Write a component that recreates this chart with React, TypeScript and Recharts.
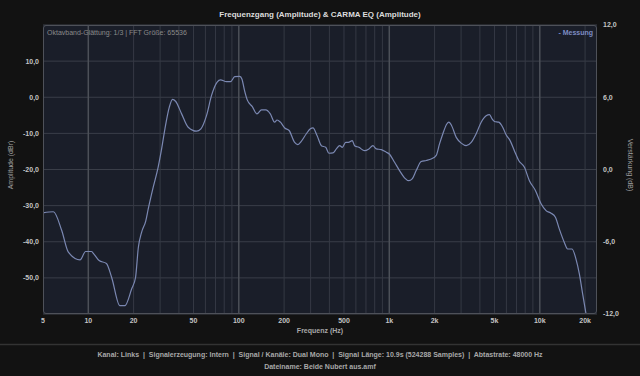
import { LineChart, Line, XAxis, YAxis, CartesianGrid, ReferenceLine } from "recharts";

const freqs = [
  5, 5.86, 6.66, 7.37, 8.81, 9.6, 10.5, 10.8, 11.8, 13.2, 14.3, 16.2, 17.5, 19.4, 20.6, 21.5, 22.6, 24.1,
  25, 27, 29.1, 30.7, 32.3, 34.5, 36.3, 38, 41.7, 46.1, 52.4, 56, 61, 65.9, 71.8, 75.6, 82.8, 88, 94,
  101.6, 105, 109, 114, 123, 132, 141.5, 151, 162, 173, 179.5, 189, 202, 216, 235, 247, 260, 281, 299,
  311, 331, 354, 378, 397, 423, 445, 468, 488, 513, 535, 568, 588, 628, 685, 732, 778, 820, 885, 955,
  1000, 1084, 1170, 1262, 1349, 1419, 1509, 1630, 1759, 1899, 2050, 2157, 2270, 2411, 2485, 2577, 2785,
  3006, 3245, 3502, 3779, 4079, 4402, 4633, 4822, 5000, 5336, 5671, 5974, 6350, 6778, 7244, 7908, 8534,
  9353, 10200, 11010, 11890, 12700, 13490, 14560, 15310, 16380, 17400, 18320, 19280, 20300,
];

const amplitude = [
  -32, -31.7, -36.9, -42.9, -45, -42.7, -42.7, -43.2, -45.2, -46, -49.9, -57.7, -57.7, -53.1, -49.9, -41.6,
  -37.4, -34.2, -31, -24.9, -19.4, -14.3, -8.75, -2.8, -0.6, -1.1, -4.6, -8.3, -9.4, -8.75, -5.1, 0.5, 4.2,
  4.8, 4.3, 4.3, 5.7, 5.8, 5.0, 2.0, -0.8, -2.6, -4.6, -3.5, -3.5, -4.6, -6.9, -6.3, -6.9, -8.5, -9.2,
  -12.5, -13.1, -12.2, -10.1, -8.75, -8.5, -10.6, -13.4, -13.85, -15.5, -15.4, -14.3, -13.4, -13.85,
  -12.5, -12.5, -12, -13.4, -13.85, -14.8, -14.3, -13.4, -14.3, -14.5, -15.2, -15.7, -18, -20.3, -22.3,
  -23.1, -22.6, -20.3, -17.8, -17.5, -17.1, -16.1, -12.9, -10.1, -7.4, -6.9, -7.6, -11.1, -12.7, -13.4,
  -12.5, -10.1, -6.9, -5.1, -4.8, -6, -6.7, -6.9, -8.3, -10.4, -12, -14.8, -17.5, -19.4, -23.1, -25.8,
  -29.5, -31.4, -32.1, -33.2, -36.5, -40.2, -42, -42, -44.8, -48.9, -54.5, -60,
];

const xTicks = [5, 10, 20, 50, 100, 200, 500, 1000, 2000, 5000, 10000, 20000];
const leftTicks = [-50, -40, -30, -20, -10, 0, 10];
const rightTicks = [-12, -6, 0, 6, 12];
const minorFreqs = [
  20, 30, 40, 50, 60, 70, 80, 90, 200, 300, 400, 500, 600, 700, 800, 900,
  2000, 3000, 4000, 5000, 6000, 7000, 8000, 9000, 20000,
];
const majorFreqs = [10, 100, 1000, 10000];

const data = freqs.map((f, i) => ({ f, db: amplitude[i] }));

const FONT = "'Liberation Sans', Arial, sans-serif";

function fmtFreq(v: number) {
  return v >= 1000 ? `${v / 1000}k` : `${v}`;
}

function fmtDb(v: number) {
  return v.toFixed(1).replace(".", ",");
}

export default function App() {
  const tickStyle = { fill: "#c4c4c4", fontSize: 7, fontFamily: FONT, fontWeight: 700 };
  return (
    <div style={{ position: "relative", width: 640, height: 376, background: "#121212", fontFamily: FONT }}>
      <style>{"body{margin:0;background:#121212}"}</style>
      <LineChart
        width={640}
        height={376}
        data={data}
        margin={{ top: 25, right: 0, bottom: 32, left: 0 }}
      >
        <CartesianGrid
          yAxisId="left"
          vertical={false}
          stroke="#3a3e48"
          fill="#1a1e29"
          fillOpacity={1}
        />
        {minorFreqs.map((f) => (
          <ReferenceLine key={f} x={f} yAxisId="left" stroke="#353944" strokeWidth={1} />
        ))}
        {majorFreqs.map((f) => (
          <ReferenceLine key={f} x={f} yAxisId="left" stroke="#4c5058" strokeWidth={1.5} />
        ))}
        <XAxis
          dataKey="f"
          type="number"
          scale="log"
          domain={[5, 24000]}
          ticks={xTicks}
          tickFormatter={fmtFreq}
          allowDataOverflow
          axisLine={false}
          tickLine={false}
          tickSize={0}
          tickMargin={4}
          height={30}
          tick={tickStyle}
          interval={0}
        />
        <YAxis
          yAxisId="left"
          type="number"
          domain={[-60, 20]}
          ticks={leftTicks}
          tickFormatter={fmtDb}
          allowDataOverflow
          axisLine={false}
          tickLine={false}
          tickSize={0}
          tickMargin={4}
          width={43}
          tick={tickStyle}
          interval={0}
        />
        <YAxis
          yAxisId="right"
          orientation="right"
          type="number"
          domain={[-12, 12]}
          ticks={rightTicks}
          tickFormatter={fmtDb}
          allowDataOverflow
          axisLine={false}
          tickLine={false}
          tickSize={0}
          tickMargin={6}
          width={43}
          tick={{ ...tickStyle, textAnchor: "start" }}
          interval={0}
        />
        <Line
          yAxisId="left"
          dataKey="db"
          type="monotone"
          stroke="#7b88b2"
          strokeWidth={1.2}
          dot={false}
          isAnimationActive={false}
        />
      </LineChart>
      <div
        style={{
          position: "absolute",
          left: 43,
          top: 25,
          width: 554,
          height: 289,
          boxSizing: "border-box",
          border: "1.5px solid #4e5159",
          borderRadius: 3,
          pointerEvents: "none",
        }}
      />
      <svg
        width={640}
        height={376}
        style={{ position: "absolute", left: 0, top: 0, pointerEvents: "none" }}
        fontFamily={FONT}
      >
        <text x={320} y={17} textAnchor="middle" fontSize={8} fontWeight={700} fill="#dcdcdc">
          Frequenzgang (Amplitude) &amp; CARMA EQ (Amplitude)
        </text>
        <text x={47} y={34.5} fontSize={7} fill="#8a8a8a">
          Oktavband-Glättung: 1/3 | FFT Größe: 65536
        </text>
        <text x={593} y={34.5} textAnchor="end" fontSize={7} fontWeight={700} fill="#7d8cc4">
          - Messung
        </text>
        <text
          x={12.5}
          y={165}
          textAnchor="middle"
          fontSize={7}
          fill="#a0a0a0"
          transform="rotate(-90 12.5 165)"
        >
          Amplitude (dBr)
        </text>
        <text
          x={627.5}
          y={165}
          textAnchor="middle"
          fontSize={7}
          fill="#a0a0a0"
          transform="rotate(90 627.5 165)"
        >
          Verstärkung (dB)
        </text>
        <text x={320} y={333} textAnchor="middle" fontSize={7} fontWeight={700} fill="#a8a8a8">
          Frequenz (Hz)
        </text>
        <line x1={0} y1={344.5} x2={640} y2={344.5} stroke="#333333" strokeWidth={1.5} />
        <text x={320} y={357} textAnchor="middle" fontSize={7} fontWeight={700} fill="#a8a8a8">
          Kanal: Links &#160;|&#160; Signalerzeugung: Intern &#160;|&#160; Signal / Kanäle: Dual Mono &#160;|&#160; Signal Länge: 10.9s (524288 Samples) &#160;|&#160; Abtastrate: 48000 Hz
        </text>
        <text x={320} y={369} textAnchor="middle" fontSize={7} fontWeight={700} fill="#a8a8a8">
          Dateiname: Beide Nubert aus.amf
        </text>
      </svg>
    </div>
  );
}
